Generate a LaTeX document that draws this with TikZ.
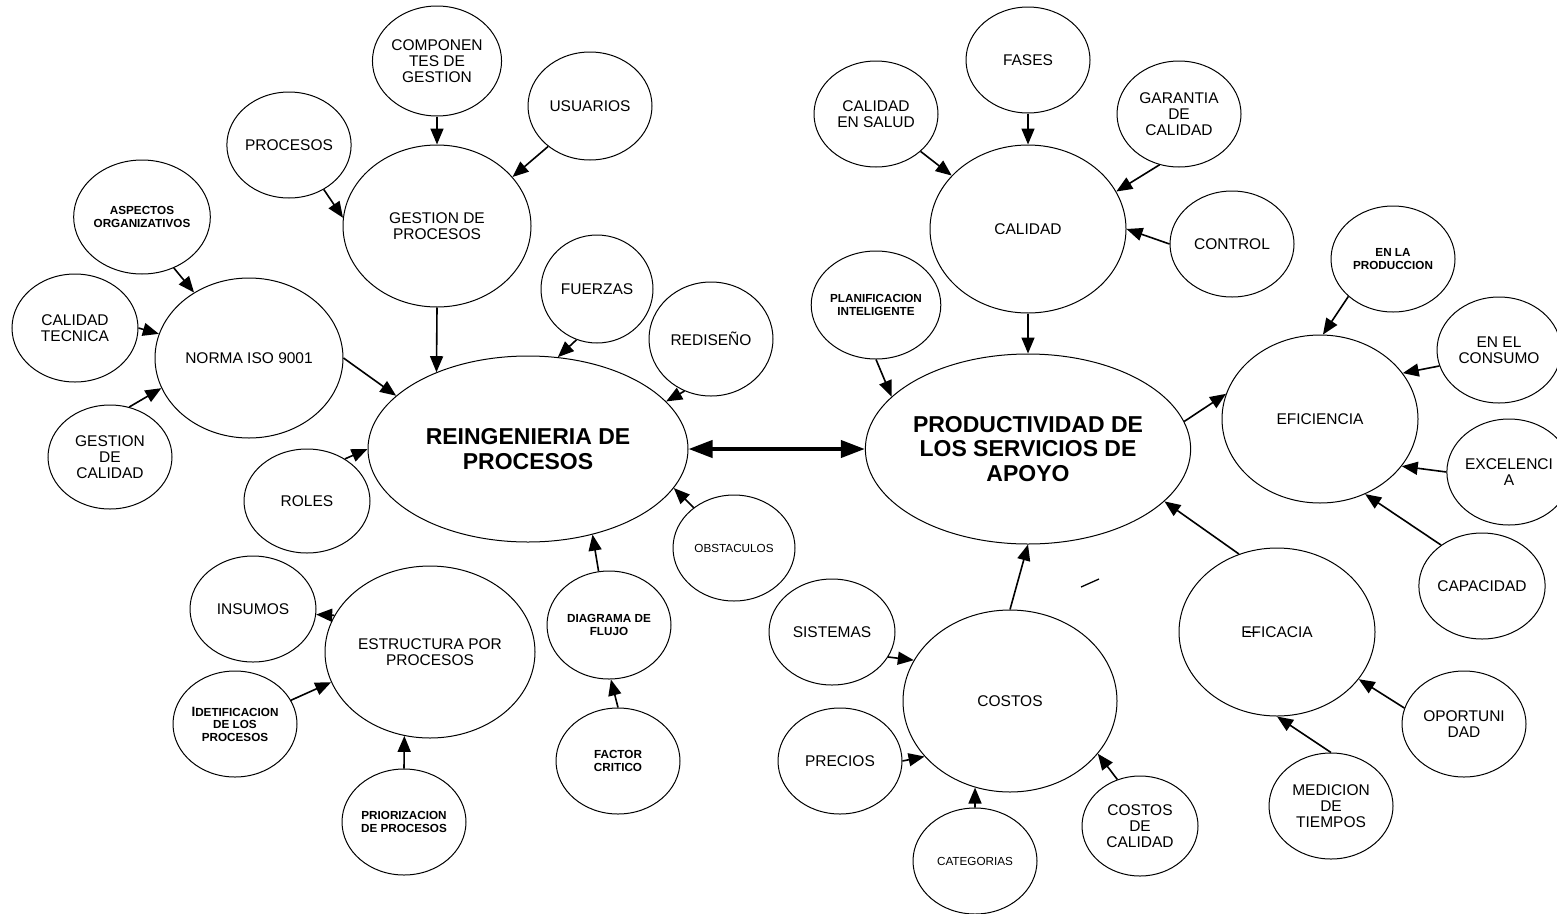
\documentclass[tikz,border=0pt]{standalone}
\usepackage{fontspec}
\setmainfont{Liberation Sans}
\usetikzlibrary{shapes.geometric,arrows.meta,calc}

\begin{document}
\begin{tikzpicture}[x=1pt,y=-1pt,
  bub/.style={ellipse,draw,line width=1pt,inner sep=0pt,align=center,
              font=\fontsize{15.5}{16}\selectfont},
  sz/.style 2 args={minimum width=#1pt,minimum height=#2pt},
  bigb/.style={font=\bfseries\fontsize{23}{24.5}\selectfont},
  sbold/.style={font=\bfseries\fontsize{11.7}{12.5}\selectfont},
  sreg/.style={font=\fontsize{11.7}{12.5}\selectfont},
  arr/.style={-{Triangle[length=16pt,width=13pt]},line width=1.6pt},
  dbl/.style={{Triangle[length=24pt,width=17pt]}-{Triangle[length=24pt,width=17pt]},line width=4pt},
]
\useasboundingbox (0,0) rectangle (1557,913);

% ---- left cluster: reingenieria de procesos ----
\node[bub,sz={124}{110}] (comp) at (437,61) {COMPONEN\\TES DE\\GESTION};
\node[bub,sz={124}{108}] (usuarios) at (590,106) {USUARIOS};
\node[bub,sz={124}{106}] (procesos) at (289,145) {PROCESOS};
\node[bub,sz={188}{162}] (gestproc) at (437,226) {GESTION DE\\PROCESOS};
\node[bub,sbold,sz={134}{114}] (aspectos) at (142,217) {ASPECTOS\\ORGANIZATIVOS};
\node[bub,sz={126}{108}] (caltec) at (75,328) {CALIDAD\\TECNICA};
\node[bub,sz={188}{160}] (norma) at (249,358) {NORMA ISO 9001};
\node[bub,sz={124}{104}] (gestcal) at (110,457) {GESTION\\DE\\CALIDAD};
\node[bub,sz={126}{104}] (roles) at (307,501) {ROLES};
\node[bub,bigb,sz={320}{186}] (reing) at (528,449) {REINGENIERIA DE\\PROCESOS};
\node[bub,sz={112}{108}] (fuerzas) at (597,289) {FUERZAS};
\node[bub,sz={124}{114}] (redis) at (711,339) {REDISEÑO};
\node[bub,sreg,sz={122}{106}] (obst) at (734,548) {OBSTACULOS};
\node[bub,sz={126}{106}] (insumos) at (253,609) {INSUMOS};
\node[bub,sz={210}{172}] (estruct) at (430,652) {ESTRUCTURA POR\\PROCESOS};
\node[bub,sbold,sz={124}{106}] (idet) at (235,724)
  {{\fontsize{13.5}{12.5}\selectfont I}DETIFICACION\\DE LOS\\PROCESOS};
\node[bub,sbold,sz={124}{106}] (prior) at (404,822) {PRIORIZACION\\DE PROCESOS};
\node[bub,sbold,sz={124}{108}] (diag) at (609,625) {DIAGRAMA DE\\FLUJO};
\node[bub,sbold,sz={124}{106}] (factor) at (618,761) {FACTOR\\CRITICO};

% ---- right cluster: productividad ----
\node[bub,sbold,sz={124}{108}] (planif) at (876,305) {PLANIFICACION\\INTELIGENTE};
\node[bub,sz={124}{106}] (calsalud) at (876,114) {CALIDAD\\EN SALUD};
\node[bub,sz={124}{106}] (fases) at (1028,60) {FASES};
\node[bub,sz={124}{106}] (garantia) at (1179,114) {GARANTIA\\DE\\CALIDAD};
\node[bub,sz={196}{168}] (calidad) at (1028,229) {CALIDAD};
\node[bub,sz={124}{106}] (control) at (1232,244) {CONTROL};
\node[bub,bigb,sz={320}{190}] (prod) at (1028,449) {PRODUCTIVIDAD DE\\LOS SERVICIOS DE\\APOYO};
\node[bub,sbold,sz={124}{106}] (enlaprod) at (1393,259) {EN LA\\PRODUCCION};
\node[bub,sz={124}{106}] (consumo) at (1499,350) {EN EL\\CONSUMO};
\node[bub,sz={196}{168}] (eficiencia) at (1320,419) {EFICIENCIA};
\node[bub,sz={124}{106}] (excel) at (1509,472) {EXCELENCI\\A};
\node[bub,sz={124}{106}] (capac) at (1482,586) {CAPACIDAD};
\node[bub,sz={196}{168}] (eficacia) at (1277,632) {EFICACIA};
\node[bub,sz={124}{106}] (oport) at (1464,724) {OPORTUNI\\DAD};
\node[bub,sz={124}{106}] (medicion) at (1331,806) {MEDICION\\DE\\TIEMPOS};
\node[bub,sz={126}{106}] (sistemas) at (832,632) {SISTEMAS};
\node[bub,sz={214}{182}] (costos) at (1010,701) {COSTOS};
\node[bub,sz={124}{106}] (precios) at (840,761) {PRECIOS};
\node[bub,sreg,sz={124}{106}] (categ) at (975,861) {CATEGORIAS};
\node[bub,sz={116}{100}] (costcal) at (1140,826) {COSTOS\\DE\\CALIDAD};

% ---- connectors, left ----
\draw[arr] (comp.south) -- (gestproc.north);
\draw[arr] (usuarios.224) -- (gestproc.33);
\draw[arr] (procesos.308) -- (gestproc.175);
\draw[arr] (gestproc.south) -- (reing.140);
\draw[arr] (aspectos.302) -- (norma.130);
\draw[arr] (caltec.east) -- (norma.165);
\draw[arr] (gestcal.69) -- (norma.199);
\draw[arr] (norma.east) -- (reing.158);
\draw[arr] (roles.48) -- (reing.180);
\draw[arr] (fuerzas.248) -- (reing.72);
\draw[arr] (redis.243) -- (reing.19);
\draw[arr] (obst.135) -- (reing.345);
\draw[arr] (diag.101) -- (reing.307);
\draw[arr] (factor.north) -- (diag.272);
\draw[arr] (estruct.159) -- (insumos.355);
\draw[arr] (idet.23) -- (estruct.197);
\draw[arr] (prior.north) -- (estruct.253);

% ---- main link ----
\draw[dbl] (reing.east) -- (prod.west);

% ---- connectors, right ----
\draw[arr] (calsalud.320) -- (calidad.145);
\draw[arr] (fases.south) -- (calidad.north);
\draw[arr] (garantia.249) -- (calidad.23);
\draw[arr] (control.west) -- (calidad.east);
\draw[arr] (calidad.south) -- (prod.north);
\draw[arr] (planif.270) -- (prod.159);
\draw[arr] (costos.north) -- (prod.south);
\draw[arr] (sistemas.336) -- (costos.157);
\draw[arr] (precios.east) -- (costos.213);
\draw[arr] (categ.north) -- (costos.248);
\draw[arr] (costcal.116) -- (costos.329);
\draw[arr] (prod.10) -- (eficiencia.165);
\draw[arr] (enlaprod.220) -- (eficiencia.88);
\draw[arr] (consumo.195) -- (eficiencia.29);
\draw[arr] (excel.west) -- (eficiencia.330);
\draw[arr] (capac.135) -- (eficiencia.301);
\draw[arr] (eficacia.116) -- (prod.339);
\draw[arr] (oport.165) -- (eficacia.330);
\draw[arr] (medicion.north) -- (eficacia.south);

% ---- loose strokes ----
\coordinate (s1) at (1081,587);
\coordinate (s2) at (1099,579);
\draw[line width=1.3pt] (s1) -- (s2);
\draw[line width=1pt] ($(eficacia.center)+(-31,0.5)$) -- ++(12,0);
\end{tikzpicture}
\end{document}
